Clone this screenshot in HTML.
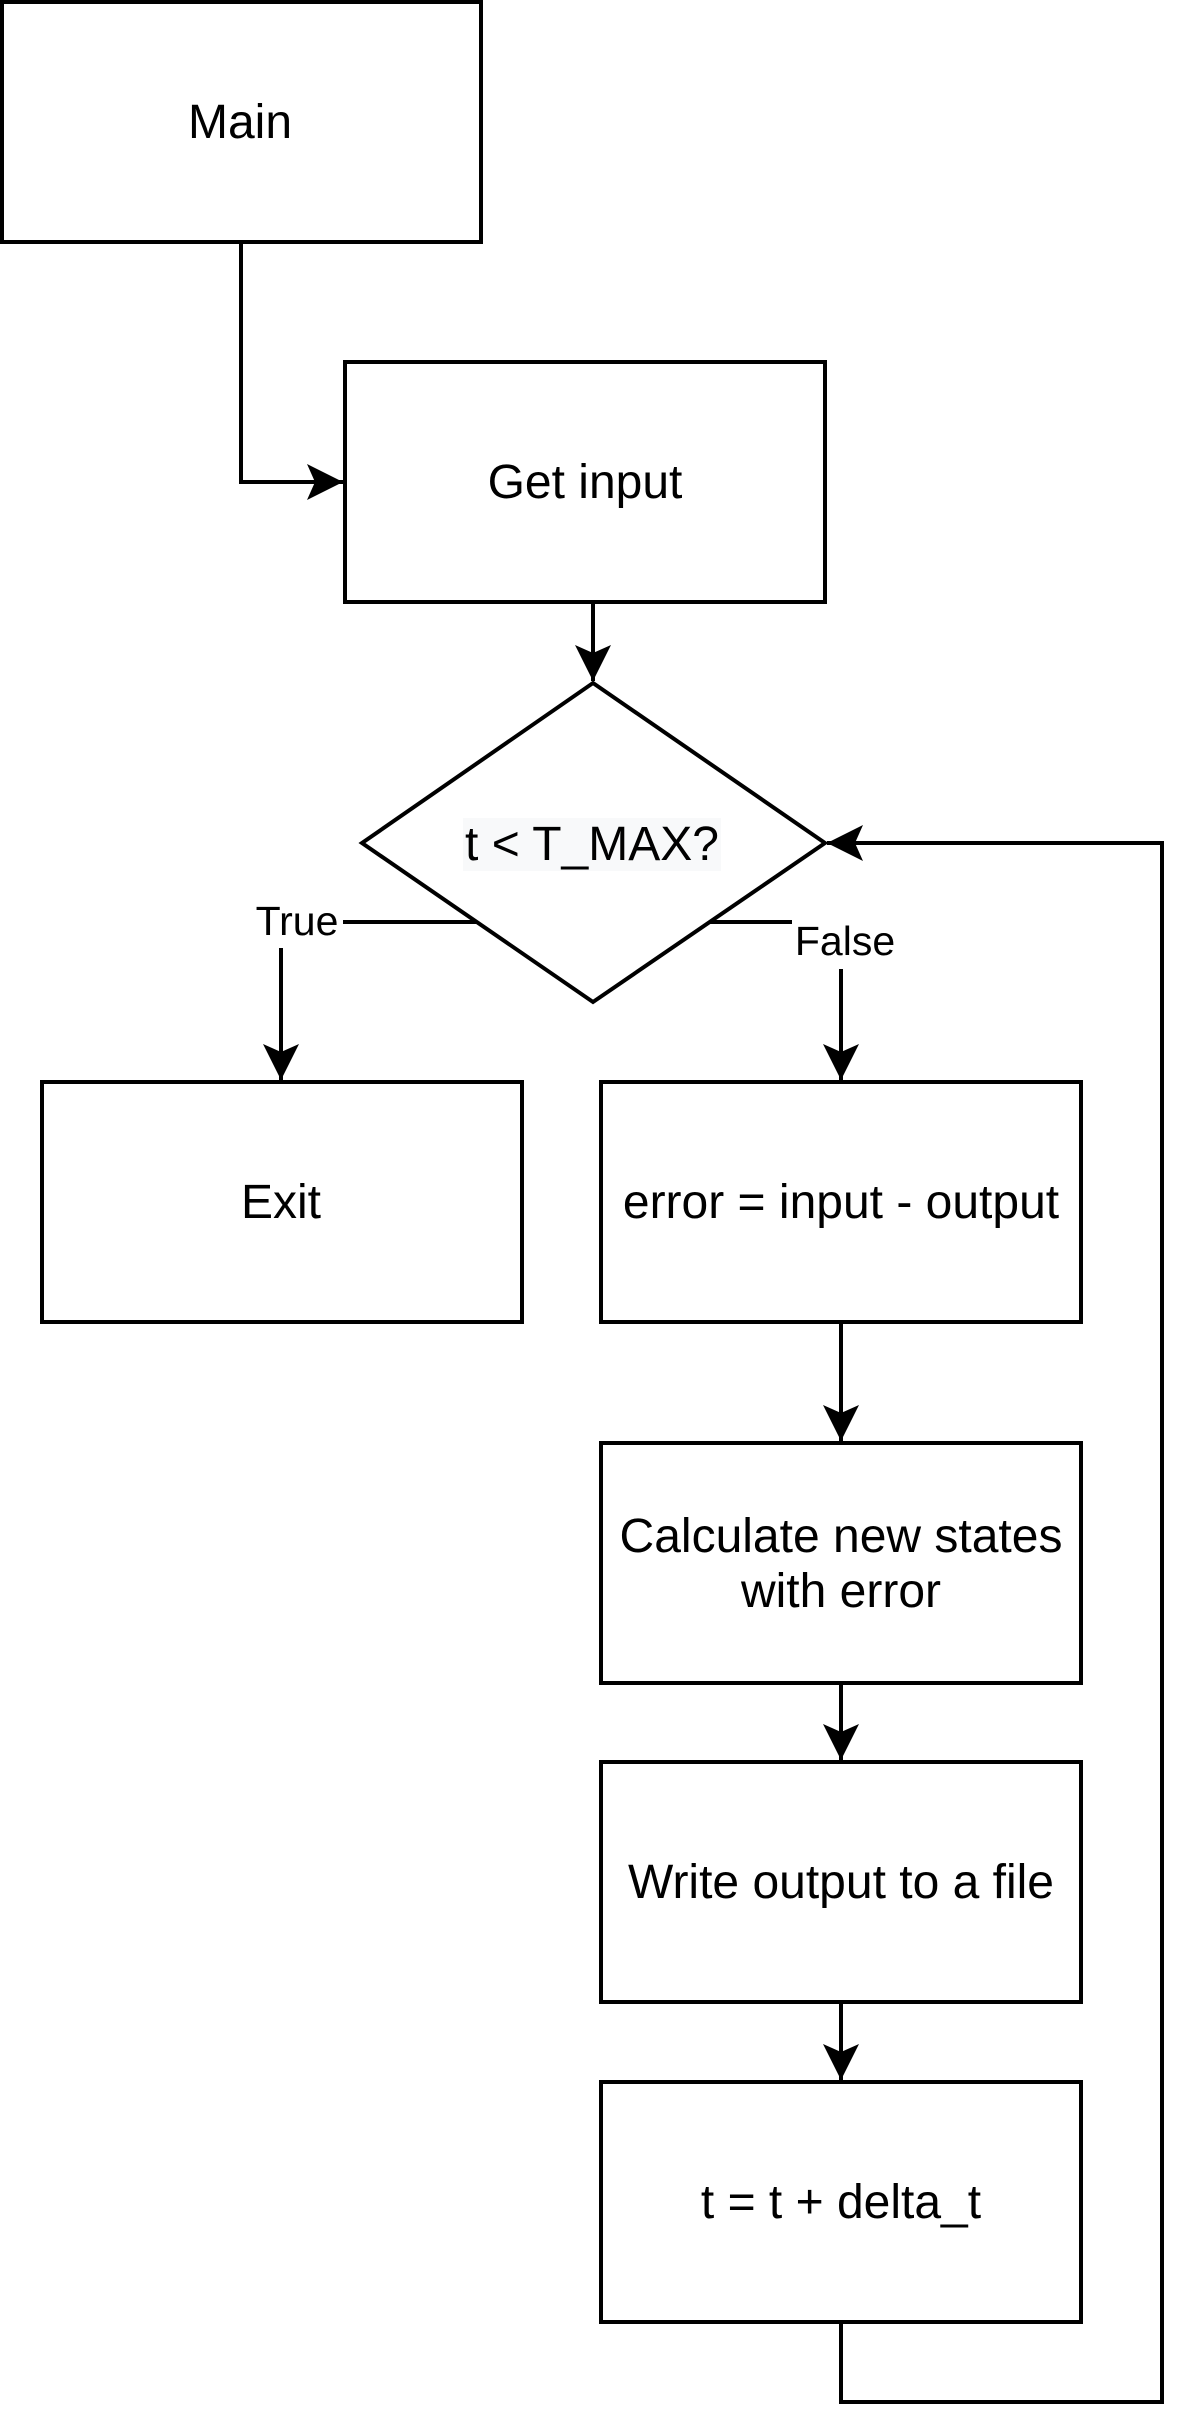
<!DOCTYPE html>
<html><head><meta charset="utf-8"><style>
html,body{margin:0;padding:0;background:#fff;}
svg{display:block;}
text{font-family:"Liberation Sans",Arial,sans-serif;fill:#000;}
</style></head><body>
<svg width="1196" height="2436" viewBox="0 0 1196 2436" xmlns="http://www.w3.org/2000/svg">
<defs>
<marker id="a" markerUnits="userSpaceOnUse" markerWidth="40" markerHeight="40" refX="36" refY="18" orient="auto">
<path d="M36,18 L0,0 L8,18 L0,36 Z" fill="#000"/>
</marker>
</defs>
<g fill="none" stroke="#000" stroke-width="4">
<rect x="2" y="2" width="479" height="240" fill="#fff"/>
<rect x="345" y="362" width="480" height="240" fill="#fff"/>
<polygon points="593,683 825,843 593,1002 362,843" fill="#fff"/>
<rect x="42" y="1082" width="480" height="240" fill="#fff"/>
<rect x="601" y="1082" width="480" height="240" fill="#fff"/>
<rect x="601" y="1443" width="480" height="240" fill="#fff"/>
<rect x="601" y="1762" width="480" height="240" fill="#fff"/>
<rect x="601" y="2082" width="480" height="240" fill="#fff"/>
<path d="M241,242 V482 H343" marker-end="url(#a)"/>
<path d="M593,602 V681" marker-end="url(#a)"/>
<path d="M476,922 H343"/>
<path d="M281,948 V1080" marker-end="url(#a)"/>
<path d="M710,922 H792"/>
<path d="M841,969 V1080" marker-end="url(#a)"/>
<path d="M841,1322 V1441" marker-end="url(#a)"/>
<path d="M841,1683 V1760" marker-end="url(#a)"/>
<path d="M841,2002 V2080" marker-end="url(#a)"/>
<path d="M841,2322 V2402 H1162 V843 H827" marker-end="url(#a)"/>
</g>
<rect x="463" y="818" width="258" height="53" fill="#f8f9fa"/>
<g font-size="48" text-anchor="middle">
<text x="240" y="138">Main</text>
<text x="585" y="498">Get input</text>
<text x="592" y="860">t &lt; T_MAX?</text>
<text x="281" y="1218">Exit</text>
<text x="841" y="1218">error = input - output</text>
<text x="841" y="1552">Calculate new states</text>
<text x="841" y="1607">with error</text>
<text x="841" y="1898">Write output to a file</text>
<text x="841" y="2218">t = t + delta_t</text>
</g>
<g font-size="41" text-anchor="middle">
<text x="297" y="935">True</text>
<text x="845" y="955">False</text>
</g>
</svg>
</body></html>
